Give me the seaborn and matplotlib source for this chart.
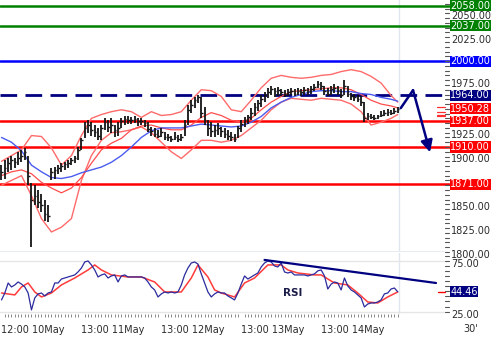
import numpy as np
import pandas as pd
import matplotlib
matplotlib.use("Agg")
import matplotlib.pyplot as plt
import matplotlib.transforms as mtransforms
import seaborn as sns

# ---------------- data ----------------
high = [1891,1896,1898,1901,1899,1905,1907,1909,1901,1872,1870,1865,1861,1854,1849,
        1888,1889,1891,1893,1894,1896,1899,1901,1910,1919,1936,1938,1936,1933,1930,
        1933,1940,1938,1940,1933,1936,1940,1943,1942,1941,1942,1940,1940,1938,1936,
        1931,1930,1928,1930,1926,1924,1922,1926,1923,1924,1938,1954,1959,1962,1965,
        1962,1952,1938,1936,1933,1935,1931,1930,1928,1926,1924,1932,1938,1941,1944,
        1951,1956,1959,1964,1968,1972,1974,1972,1973,1971,1970,1971,1972,1971,1972,
        1971,1973,1972,1974,1976,1979,1978,1974,1972,1974,1976,1974,1971,1980,1974,
        1967,1966,1965,1963,1957,1946,1945,1944,1944,1948,1949,1950,1949,1951,1952]
low = [1875,1877,1884,1886,1888,1891,1894,1896,1870,1805,1849,1846,1842,1833,1831,
       1875,1877,1882,1884,1886,1888,1891,1893,1896,1907,1919,1925,1922,1920,1917,
       1917,1928,1926,1925,1920,1922,1930,1933,1934,1934,1935,1932,1933,1931,1926,
       1922,1920,1919,1920,1917,1916,1915,1917,1915,1916,1922,1933,1946,1951,1956,
       1940,1933,1922,1920,1920,1923,1920,1919,1917,1916,1915,1919,1926,1931,1934,
       1938,1943,1948,1952,1957,1961,1964,1962,1963,1963,1962,1963,1964,1963,1964,
       1963,1965,1964,1966,1969,1972,1970,1965,1963,1965,1967,1965,1961,1965,1962,
       1959,1958,1957,1953,1936,1938,1939,1938,1939,1941,1942,1943,1944,1945,1946]
close = [1884,1888,1893,1896,1894,1899,1901,1905,1880,1854,1859,1852,1849,1840,1838,
         1884,1886,1888,1890,1892,1893,1896,1898,1907,1917,1930,1933,1928,1926,1922,
         1930,1936,1931,1933,1928,1930,1937,1939,1938,1938,1939,1937,1937,1935,1929,
         1927,1924,1922,1926,1920,1920,1918,1921,1918,1920,1933,1949,1954,1959,1962,
         1946,1938,1930,1927,1928,1930,1927,1924,1922,1920,1918,1930,1934,1938,1941,
         1946,1952,1956,1960,1964,1968,1971,1969,1970,1968,1966,1968,1969,1966,1969,
         1968,1970,1969,1971,1973,1976,1974,1969,1966,1971,1972,1970,1965,1974,1966,
         1963,1962,1960,1957,1940,1942,1941,1940,1942,1944,1946,1947,1946,1948,1950]

band_x = [0,3,6,9,12,15,18,21,24,27,30,33,36,39,42,45,48,51,54,57,60,63,66,69,72,75,
          78,81,84,87,90,93,96,99,102,105,108,111,114,117,119]
upper = [1895,1901,1907,1922,1921,1909,1891,1901,1922,1940,1944,1947,1949,1947,1941,
         1947,1943,1944,1947,1959,1970,1969,1963,1949,1947,1959,1972,1982,1985,1983,
         1982,1983,1985,1986,1989,1991,1989,1984,1977,1964,1957]
middle = [1880,1884,1886,1882,1873,1867,1862,1867,1878,1893,1907,1914,1919,1928,1932,
          1933,1930,1928,1928,1933,1941,1946,1943,1938,1936,1940,1949,1957,1963,1968,
          1969,1970,1971,1972,1972,1970,1965,1959,1955,1953,1951]
lower = [1870,1875,1880,1859,1835,1821,1826,1835,1875,1901,1917,1925,1926,1928,1931,
         1925,1915,1905,1898,1907,1917,1917,1915,1917,1922,1930,1938,1949,1957,1961,
         1960,1959,1961,1960,1959,1955,1947,1933,1936,1940,1944]
ma_blue = [1920,1915,1906,1891,1884,1878,1877,1879,1883,1886,1889,1894,1901,1910,1920,
           1927,1930,1930,1930,1932,1934,1933,1932,1931,1932,1936,1942,1951,1957,1962,
           1965,1968,1969,1969,1968,1968,1966,1965,1962,1960,1958]

rsi = [36.5,43.3,53.1,49.2,51.2,54.1,52.0,49.2,43.3,26.7,38.5,42.4,43.3,40.4,43.3,
       44.3,53.1,53.1,57.0,58.0,59.0,60.0,61.0,64.0,67.8,73.7,74.7,70.8,65.9,59.0,
       61.0,62.0,58.0,60.0,61.0,54.1,60.0,61.0,59.0,59.0,59.0,59.0,59.0,58.0,54.1,
       49.2,46.3,39.4,42.4,44.3,43.3,44.3,43.3,44.3,51.2,61.0,67.8,72.7,73.7,71.7,
       62.0,53.1,44.3,39.4,42.4,44.3,43.3,43.3,40.4,38.5,36.5,43.3,52.0,60.0,57.0,
       59.0,61.0,62.9,68.8,72.7,74.7,73.7,69.8,68.8,72.7,63.9,62.9,63.9,61.0,61.0,
       61.0,61.0,60.0,61.0,62.0,65.0,65.9,60.0,47.2,52.0,54.1,53.1,46.3,58.0,50.2,
       46.3,44.3,41.4,38.5,29.6,32.5,33.5,33.5,34.5,36.5,42.4,43.3,47.2,48.2,44.46]
sig_x = [0,4,6,8,10,12,15,18,22,26,28,30,33,38,42,46,49,54,57,59,62,64,66,70,73,76,
         80,84,86,89,94,96,100,104,107,110,113,116,119]
sig = [43.3,41.4,49.2,53.1,44.3,39.4,43.3,51.2,58.0,65.9,70.8,65.9,61.0,59.0,59.0,
       54.1,44.3,44.3,58.0,70.8,59.0,46.3,43.3,39.4,53.1,58.0,70.8,70.8,65.9,62.9,
       61.0,61.0,53.1,51.2,43.3,34.5,33.5,39.4,44.3]

# RSI trend line and projected path (bar index, value)
rsi_trend_x = [79, 130.5]
rsi_trend_y = [75.7, 53.1]
proj_x = [119.9, 123.6, 128.7]
proj_y = [1950.7, 1969.5, 1904.5]

levels = [2058.00, 2037.00, 2000.00, 1964.00, 1950.28, 1937.00, 1910.00, 1871.00]
level_colors = ["#008000", "#008000", "#0000ff", "#000080", "#ff0000",
                "#ff0000", "#ff0000", "#ff0000"]
level_styles = ["-", "-", "-", "--", None, "-", "-", "-"]
marker_levels = [1952, 1947, 1944, 1942]
price_ticks = [2050, 2025, 1975, 1925, 1900, 1850, 1825, 1800]
rsi_ticks = [75, 25]
rsi_last = 44.46
day_ticks = [0, 24, 48, 72, 96]
day_labels = ["12:00 10May", "13:00 11May", "13:00 12May", "13:00 13May", "13:00 14May"]
timeframe = "30'"

# ---------------- figure ----------------
sns.set_style("white")
plt.rcParams["font.family"] = ["DejaVu Sans"]
W, H = 500, 339
fig = plt.figure(figsize=(W / 100, H / 100), dpi=100)
ax = fig.add_axes([0, (H - 252) / H, 445 / W, 252 / H])
ar = fig.add_axes([0, (H - 314) / H, 445 / W, 61 / H])

xmin, xmax = -0.45, 133.2
txt = "#2b2b2b"
FS = 7.0
for a in (ax, ar):
    a.set_xlim(xmin, xmax)
    for s in a.spines.values():
        s.set_visible(False)
    a.set_facecolor("white")
    a.axvline(119.3, color="#dfe6ef", lw=1, zorder=0)

ax.set_ylim(1800, 2064)
ar.set_ylim(22.7, 82.5)

# bottom separator of price panel
ax.axhline(1800, color="#e4eaf2", lw=1.2, zorder=0)
for v in rsi_ticks:
    ar.axhline(v, color="#e6e6e6", lw=1, zorder=0)

# bands and moving average
sns.lineplot(x=band_x, y=upper, ax=ax, color="#ff6a6a", lw=1, zorder=2)
sns.lineplot(x=band_x, y=lower, ax=ax, color="#ff6a6a", lw=1, zorder=2)
sns.lineplot(x=band_x, y=middle, ax=ax, color="#ff4d4d", lw=0.9, zorder=2)
sns.lineplot(x=band_x, y=ma_blue, ax=ax, color="#4b5cf0", lw=1, zorder=2)

# OHLC-like bars
idx = np.arange(len(close))
ax.vlines(idx, low, high, color="#151515", lw=1.3, zorder=3)
ax.hlines(close, idx, idx + 0.5, color="#151515", lw=1, zorder=3)

# levels
for v, c, ls in zip(levels, level_colors, level_styles):
    if ls is not None:
        if ls == "--":
            ax.axhline(v, xmax=1.01, color=c, lw=2, dashes=(6, 3), clip_on=False, zorder=1)
        else:
            ax.axhline(v, xmax=1.01, color=c, lw=1.8, clip_on=False, zorder=1)

# projection arrow
ax.plot(proj_x[:2], proj_y[:2], color="#000080", lw=1.8, zorder=5)
ax.annotate("", xy=(proj_x[2], proj_y[2]), xytext=(proj_x[1], proj_y[1]),
            arrowprops=dict(arrowstyle="-|>,head_length=0.7,head_width=0.35",
                            color="#000080", lw=1.8, shrinkA=0, shrinkB=0), zorder=5)

# right axis ticks / labels
ytr = ax.get_yaxis_transform()
ytr_down = mtransforms.offset_copy(ytr, fig=fig, y=-2.5, units="dots")
ytr_up = mtransforms.offset_copy(ytr, fig=fig, y=0.5, units="dots")
for v in np.arange(1800, 2065, 5):
    ax.plot([1.0, 1.008], [v, v], transform=ytr, color="#555555", lw=0.8, clip_on=False)
for v in price_ticks:
    # lift a tick label slightly when a level box sits just below it
    crowded = any(0 < v - lv < 13 for lv in levels)
    ax.text(1.014, v, f"{v:.2f}", transform=ytr_up if crowded else ytr_down,
            ha="left", va="center", fontsize=FS, color=txt, clip_on=False)
for v in marker_levels:
    ax.plot([0.982, 1.0], [v, v], transform=ytr, color="#ff3030", lw=0.9, clip_on=False)
for v, c in zip(levels, level_colors):
    ax.text(1.012, v, f"{v:.2f}", transform=ytr, ha="left", va="center",
            fontsize=FS, color="white", zorder=10, clip_on=False,
            bbox=dict(boxstyle="square,pad=0.06", fc=c, ec="none"))

# RSI panel
sns.lineplot(x=sig_x, y=sig, ax=ar, color="#ff3b3b", lw=1.1, zorder=2)
sns.lineplot(x=idx, y=rsi, ax=ar, color="#2b2b9e", lw=0.9, zorder=3)
ar.plot(rsi_trend_x, rsi_trend_y, color="#000080", lw=1.6, zorder=4, clip_on=False)
ar.text(84.5, 43.5, "RSI", fontsize=7.5, fontweight="bold", color="#1b1b4a",
        ha="left", va="center")
rtr = ar.get_yaxis_transform()
rtr_lab = mtransforms.offset_copy(rtr, fig=fig, y=-3, units="dots")
for v in np.arange(25, 81, 5):
    ar.plot([1.0, 1.008], [v, v], transform=rtr, color="#555555", lw=0.8, clip_on=False)
for v in rsi_ticks:
    ar.text(1.014, v, f"{v:.2f}", transform=rtr_lab, ha="left", va="center",
            fontsize=FS, color=txt, clip_on=False)
ar.plot([0.985, 1.0], [rsi_last, rsi_last], transform=rtr, color="#ff0000", lw=1, clip_on=False)
ar.text(1.012, rsi_last, f"{rsi_last:.2f}", transform=rtr, ha="left", va="center",
        fontsize=FS, color="white", zorder=10, clip_on=False,
        bbox=dict(boxstyle="square,pad=0.06", fc="#000080", ec="none"))

ax.set_xticks([])
ax.set_yticks([])
ar.set_yticks([])
ar.set_xticks(day_ticks)
ar.set_xticklabels(day_labels, ha="left", fontsize=FS, color=txt)
ar.set_xticks(np.arange(0, 120, 1), minor=True)
ar.tick_params(axis="x", which="major", length=0, pad=8)
ar.tick_params(axis="x", which="minor", length=2, width=0.6, color="#777777", bottom=True)
ar.set_xlabel("")
ax.set_xlabel(""); ax.set_ylabel(""); ar.set_ylabel("")
fig.text(463 / W, 1 - 329 / H, timeframe, fontsize=FS, color=txt, ha="left", va="center")

fig.savefig("out.png", dpi=100)
